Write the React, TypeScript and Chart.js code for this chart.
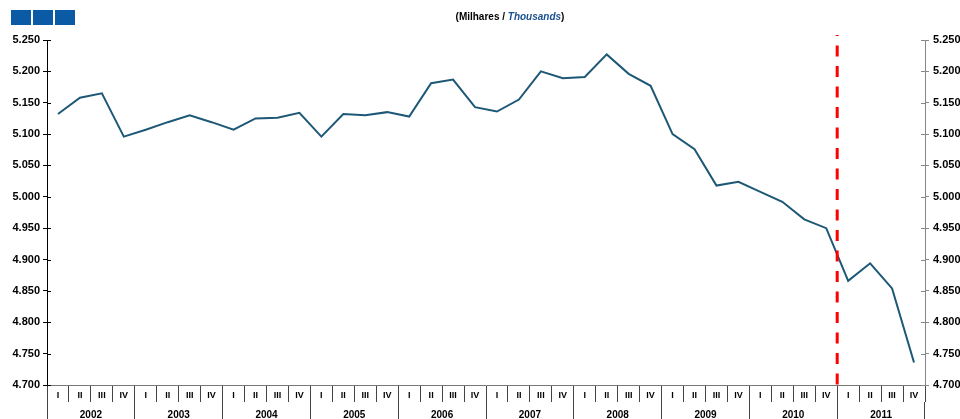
import React, { useEffect, useRef } from 'react';
import { Chart, registerables } from 'chart.js';

Chart.register(...registerables);

const years = ['2002', '2003', '2004', '2005', '2006', '2007', '2008', '2009', '2010', '2011'];
const quarters = ['I', 'II', 'III', 'IV'];
const quarterLabels = years.flatMap(() => quarters);

// Employment, thousands (quarterly, 2002 I – 2011 IV)
const values2002 = [5.132, 5.158, 5.165, 5.096];
const values2003 = [5.107, 5.119, 5.130, 5.119];
const values2004 = [5.107, 5.125, 5.126, 5.134];
const values2005 = [5.096, 5.132, 5.130, 5.135];
const values2006 = [5.128, 5.181, 5.187, 5.143];
const values2007 = [5.136, 5.155, 5.200, 5.189];
const values2008 = [5.191, 5.227, 5.196, 5.177];
const values2009 = [5.100, 5.076, 5.018, 5.024];
const values2010 = [5.008, 4.992, 4.964, 4.950];
const values2011 = [4.866, 4.894, 4.854, 4.736];
const values = [
  ...values2002, ...values2003, ...values2004, ...values2005, ...values2006,
  ...values2007, ...values2008, ...values2009, ...values2010, ...values2011,
];

const yMin = 4.7;
const yMax = 5.25;
const yStep = 0.05;
const forecastStartIndex = 36; // boundary before 2011 I

const titleMain = '(Milhares / ';
const titleItalic = 'Thousands';
const titleEnd = ')';

const FONT = '"Liberation Sans", Arial, Helvetica, sans-serif';

const decorPlugin = {
  id: 'decor',
  afterDraw(chart: any) {
    const ctx = chart.ctx as CanvasRenderingContext2D;
    const { top, bottom, left, right } = chart.chartArea;
    ctx.save();

    // three blue squares
    ctx.fillStyle = '#0b5aa5';
    [11, 33, 55].forEach((x) => ctx.fillRect(x, 10, 20, 15));

    // title
    ctx.textBaseline = 'middle';
    ctx.textAlign = 'left';
    const fMain = `bold 10px ${FONT}`;
    const fIt = `italic bold 10px ${FONT}`;
    ctx.font = fMain;
    const w1 = ctx.measureText(titleMain).width;
    const w3 = ctx.measureText(titleEnd).width;
    ctx.font = fIt;
    const w2 = ctx.measureText(titleItalic).width;
    let tx = 510 - (w1 + w2 + w3) / 2;
    const ty = 17;
    ctx.font = fMain;
    ctx.fillStyle = '#000';
    ctx.fillText(titleMain, tx, ty);
    tx += w1;
    ctx.font = fIt;
    ctx.fillStyle = '#1a4f8f';
    ctx.fillText(titleItalic, tx, ty);
    tx += w2;
    ctx.font = fMain;
    ctx.fillStyle = '#000';
    ctx.fillText(titleEnd, tx, ty);

    // inner tick marks on both y axes
    const ys = chart.scales.y;
    ctx.lineWidth = 1;
    ctx.strokeStyle = '#000';
    ctx.beginPath();
    ys.ticks.forEach((_: any, i: number) => {
      const py = Math.round(ys.getPixelForTick(i)) + 0.5;
      ctx.moveTo(left, py);
      ctx.lineTo(left + 4, py);
    });
    ctx.stroke();
    const ys1 = chart.scales.y1;
    ctx.strokeStyle = '#888';
    ctx.beginPath();
    ys1.ticks.forEach((_: any, i: number) => {
      const py = Math.round(ys1.getPixelForTick(i)) + 0.5;
      ctx.moveTo(right - 4, py);
      ctx.lineTo(right, py);
    });
    ctx.stroke();

    // red dashed forecast separator
    const xs = chart.scales.x;
    const xr =
      (xs.getPixelForValue(forecastStartIndex - 1) + xs.getPixelForValue(forecastStartIndex)) / 2;
    ctx.strokeStyle = '#ff0000';
    ctx.lineWidth = 3;
    ctx.setLineDash([11, 9.5]);
    ctx.lineDashOffset = 10;
    ctx.beginPath();
    ctx.moveTo(xr, top - 5);
    ctx.lineTo(xr, bottom);
    ctx.stroke();

    ctx.restore();
  },
};

export default function App() {
  const canvasRef = useRef<HTMLCanvasElement | null>(null);

  useEffect(() => {
    if (!canvasRef.current) return;
    const chart = new Chart(canvasRef.current, {
      type: 'line',
      data: {
        labels: quarterLabels,
        datasets: [
          {
            data: values,
            borderColor: '#1d5877',
            borderWidth: 2,
            pointRadius: 0,
            tension: 0,
            fill: false,
          },
        ],
      },
      options: {
        animation: false,
        responsive: false,
        devicePixelRatio: 1,
        layout: { padding: { top: 40, left: 0, right: 0, bottom: 0 } },
        plugins: {
          legend: { display: false },
          title: { display: false },
          tooltip: { enabled: false },
        },
        scales: {
          x: {
            type: 'category',
            position: 'bottom',
            offset: true,
            afterFit: (s: any) => {
              s.height = 17;
            },
            grid: {
              offset: true,
              drawOnChartArea: false,
              drawTicks: true,
              tickLength: 17,
              color: '#444',
            },
            border: { display: true, color: '#777' },
            ticks: {
              autoSkip: false,
              maxRotation: 0,
              minRotation: 0,
              padding: -12,
              color: '#000',
              font: { family: FONT, size: 9, weight: 'bold' },
            },
          },
          x2: {
            type: 'category',
            labels: years,
            position: 'bottom',
            offset: true,
            afterFit: (s: any) => {
              s.height = 17;
            },
            grid: {
              offset: true,
              drawOnChartArea: false,
              drawTicks: true,
              tickLength: 17,
              color: '#444',
            },
            border: { display: false },
            ticks: {
              autoSkip: false,
              maxRotation: 0,
              minRotation: 0,
              padding: -10,
              color: '#000',
              font: { family: FONT, size: 10, weight: 'bold' },
            },
          },
          y: {
            type: 'linear',
            position: 'left',
            min: yMin,
            max: yMax,
            afterFit: (s: any) => {
              s.width = 47;
            },
            grid: { drawOnChartArea: false, tickLength: 4, color: '#000' },
            border: { display: true, color: '#000' },
            ticks: {
              stepSize: yStep,
              padding: 3,
              color: '#000',
              font: { family: FONT, size: 11, weight: 'bold' },
              callback: (v: any) => Number(v).toFixed(3),
            },
          },
          y1: {
            type: 'linear',
            position: 'right',
            min: yMin,
            max: yMax,
            afterFit: (s: any) => {
              s.width = 35;
            },
            grid: { drawOnChartArea: false, tickLength: 4, color: '#888' },
            border: { display: true, color: '#888' },
            ticks: {
              stepSize: yStep,
              padding: 4,
              color: '#000',
              font: { family: FONT, size: 11, weight: 'bold' },
              callback: (v: any) => Number(v).toFixed(3),
            },
          },
        },
      },
      plugins: [decorPlugin],
    });
    return () => chart.destroy();
  }, []);

  return (
    <div style={{ position: 'fixed', left: 0, top: 0, width: 960, height: 419, background: '#fff' }}>
      <canvas ref={canvasRef} width={960} height={419} style={{ display: 'block' }} />
    </div>
  );
}
